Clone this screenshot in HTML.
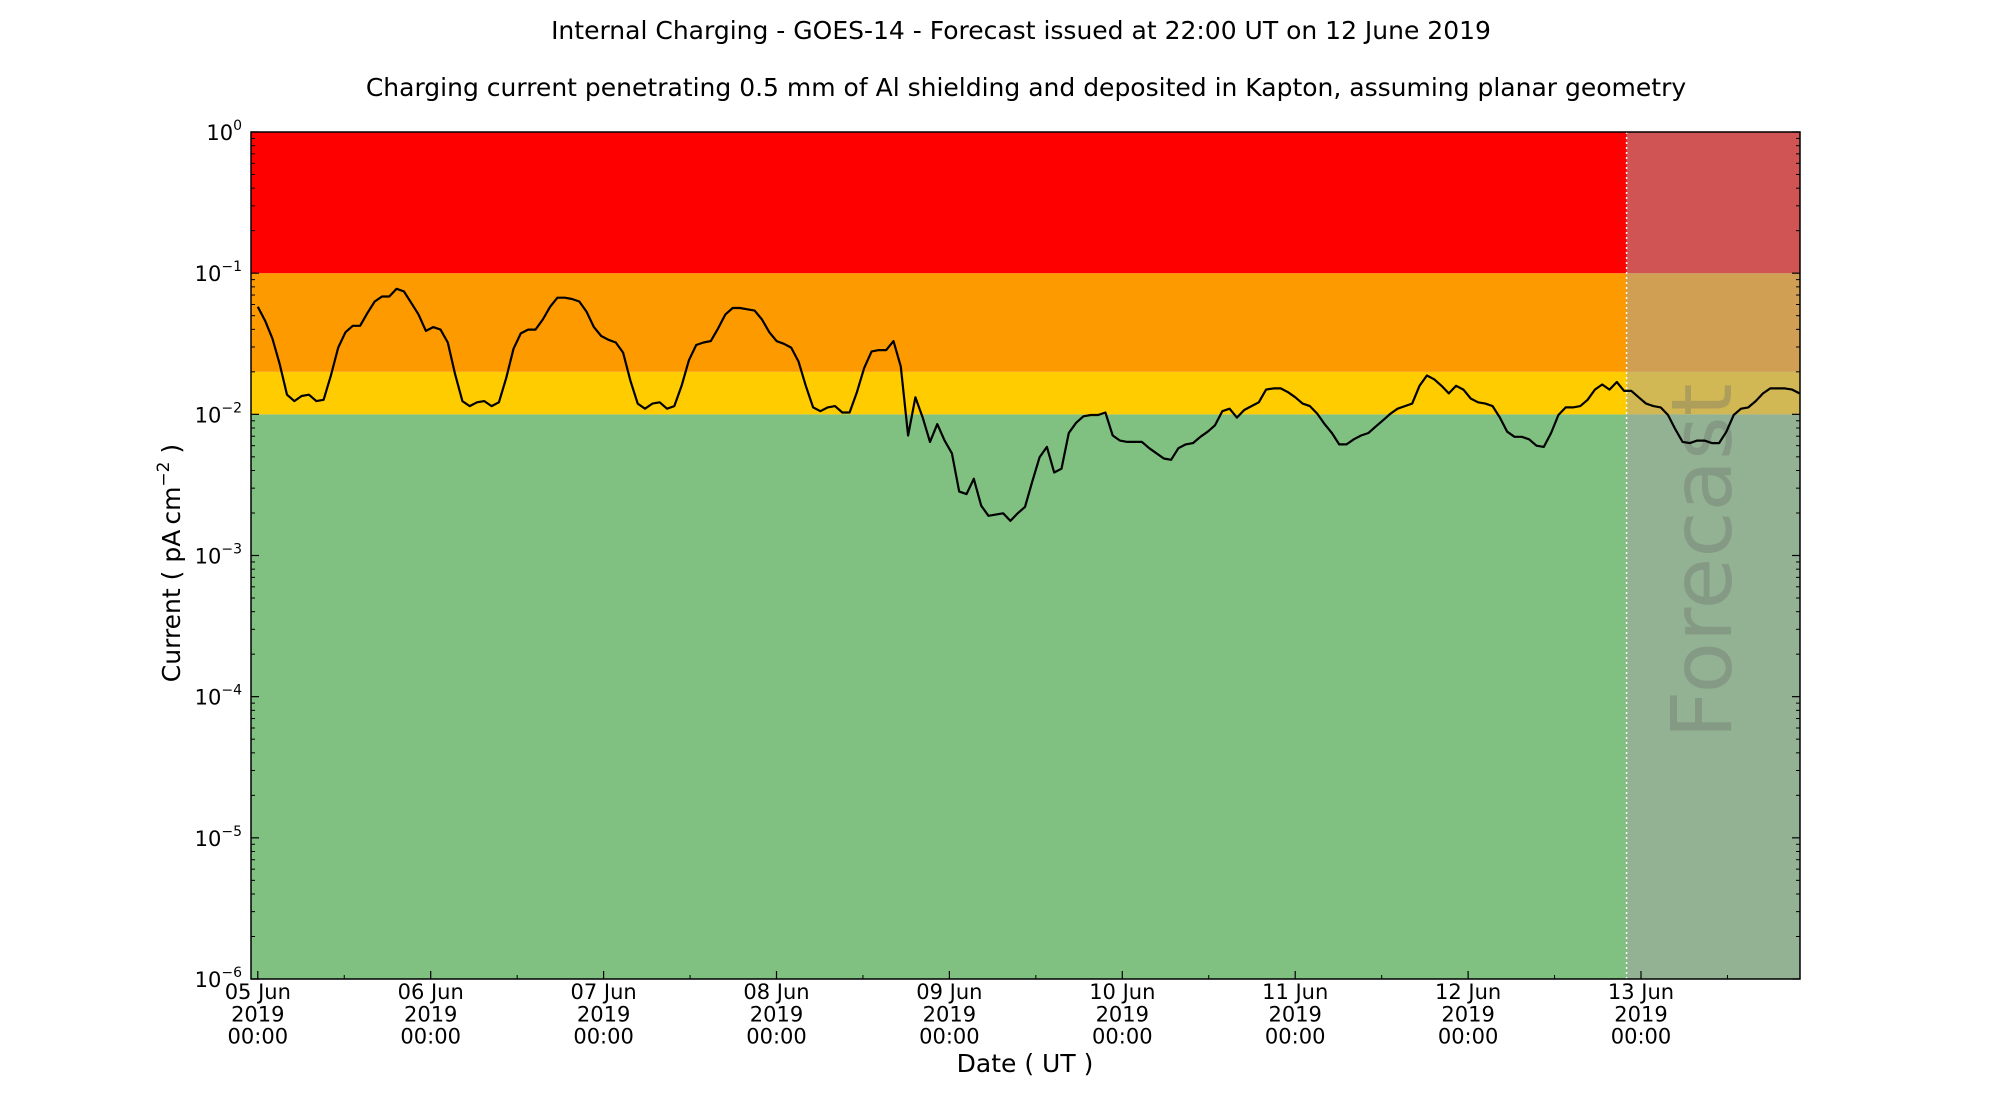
<!DOCTYPE html>
<html><head><meta charset="utf-8"><style>
html,body{margin:0;padding:0;background:#fff;}
svg{display:block;font-family:"DejaVu Sans","Liberation Sans",sans-serif;}
</style></head><body>
<svg id="chart" width="2000" height="1100" viewBox="0 0 2000 1100"></svg>
<script>
// ---- data ----
const dayLabels = ["05 Jun","06 Jun","07 Jun","08 Jun","09 Jun","10 Jun","11 Jun","12 Jun","13 Jun"];
const yTickExponents = [0,-1,-2,-3,-4,-5,-6];
const riskThresholds = [1e-2, 2e-2, 1e-1, 1];
const riskColors = ["#80c080","#ffcc00","#fc9a00","#ff0000"];
const forecastStartHour = 190; // 12 Jun 22:00 relative to 05 Jun 00:00
const seriesStartHour = 0;
const seriesEndHour = 214;
const logCurrent = [-1.238,-1.337,-1.463,-1.644,-1.861,-1.906,-1.870,-1.861,-1.906,-1.897,-1.725,-1.527,-1.418,-1.373,-1.373,-1.283,-1.201,-1.165,-1.165,-1.111,-1.129,-1.210,-1.292,-1.409,-1.382,-1.400,-1.491,-1.716,-1.906,-1.942,-1.915,-1.906,-1.942,-1.915,-1.743,-1.536,-1.427,-1.400,-1.400,-1.328,-1.238,-1.174,-1.174,-1.183,-1.201,-1.274,-1.382,-1.445,-1.472,-1.491,-1.563,-1.762,-1.924,-1.960,-1.924,-1.915,-1.960,-1.942,-1.798,-1.617,-1.509,-1.491,-1.481,-1.391,-1.292,-1.247,-1.247,-1.256,-1.265,-1.328,-1.418,-1.481,-1.500,-1.527,-1.626,-1.798,-1.951,-1.978,-1.951,-1.942,-1.987,-1.987,-1.843,-1.671,-1.554,-1.545,-1.545,-1.481,-1.662,-2.150,-1.879,-2.023,-2.195,-2.069,-2.186,-2.276,-2.547,-2.565,-2.457,-2.647,-2.719,-2.710,-2.701,-2.755,-2.701,-2.656,-2.475,-2.304,-2.231,-2.412,-2.385,-2.132,-2.060,-2.014,-2.005,-2.005,-1.987,-2.150,-2.186,-2.195,-2.195,-2.195,-2.240,-2.276,-2.313,-2.322,-2.240,-2.213,-2.204,-2.159,-2.123,-2.078,-1.978,-1.960,-2.023,-1.969,-1.942,-1.915,-1.825,-1.816,-1.816,-1.843,-1.879,-1.924,-1.942,-1.996,-2.069,-2.132,-2.213,-2.213,-2.177,-2.150,-2.132,-2.087,-2.042,-1.996,-1.960,-1.942,-1.924,-1.798,-1.725,-1.752,-1.798,-1.852,-1.798,-1.825,-1.888,-1.915,-1.924,-1.942,-2.023,-2.123,-2.159,-2.159,-2.177,-2.222,-2.231,-2.132,-2.005,-1.951,-1.951,-1.942,-1.897,-1.825,-1.789,-1.825,-1.771,-1.834,-1.834,-1.879,-1.924,-1.942,-1.951,-2.005,-2.105,-2.195,-2.204,-2.186,-2.186,-2.204,-2.204,-2.123,-2.005,-1.960,-1.951,-1.906,-1.852,-1.816,-1.816,-1.816,-1.825,-1.852];

// ---- layout ----
const L=251, R=1800, T=132, B=979;
const x0 = 257.8, pxPerHour = 172.9/24;
const X = h => x0 + h*pxPerHour;
const Y = v => T + (0 - Math.log10(v)) * (B-T)/6;
const NS="http://www.w3.org/2000/svg";
const svg=document.getElementById('chart');
function el(tag, attrs, parent){const e=document.createElementNS(NS,tag);for(const k in attrs)e.setAttribute(k,attrs[k]);(parent||svg).appendChild(e);return e;}

// titles
let t=el('text',{x:1021,y:39,'text-anchor':'middle','font-size':25,fill:'#000'});


t.textContent='Internal Charging - GOES-14 - Forecast issued at 22:00 UT on 12 June 2019';
t=el('text',{x:1026,y:96,'text-anchor':'middle','font-size':25,fill:'#000'});


t.textContent='Charging current penetrating 0.5 mm of Al shielding and deposited in Kapton, assuming planar geometry';

// bands
const bands=el('g',{});


let lo=1e-6;
riskThresholds.forEach((hi,i)=>{
  const r=el('rect',{x:L,y:Y(hi),width:R-L,height:Y(lo)-Y(hi),fill:riskColors[i]},bands);
  
  
  lo=hi;
});
const fx=X(forecastStartHour);
const ov=el('rect',{x:fx,y:T,width:R-fx,height:B-T,fill:'rgba(165,165,165,0.51)'});


const ft=el('text',{x:0,y:0,'font-size':84,fill:'rgba(110,110,110,0.35)','text-anchor':'middle',transform:`translate(1731,561) rotate(-90)`});


ft.textContent='Forecast';
const fl=el('line',{x1:fx,x2:fx,y1:T,y2:B,stroke:'#fff','stroke-width':1.5,'stroke-dasharray':'2,3'});



// series
const n=logCurrent.length;
const pts=logCurrent.map((lv,i)=>{const h=seriesStartHour+(seriesEndHour-seriesStartHour)*i/(n-1);return X(h).toFixed(1)+','+Y(Math.pow(10,lv)).toFixed(1);}).join(' ');
const line=el('polyline',{points:pts,fill:'none',stroke:'#000','stroke-width':2.2,'stroke-linejoin':'round'});



// axes frame
const fr=el('rect',{x:L,y:T,width:R-L,height:B-T,fill:'none',stroke:'#000','stroke-width':1.5});



// y ticks
const yax=el('g',{});


yTickExponents.forEach(e=>{
  const y=Y(Math.pow(10,e));
  el('line',{x1:L,x2:L+8,y1:y,y2:y,stroke:'#000','stroke-width':1.2},yax);
  el('line',{x1:R,x2:R-8,y1:y,y2:y,stroke:'#000','stroke-width':1.2},yax);
  const tx=el('text',{x:L-9,y:y+8,'text-anchor':'end','font-size':21,fill:'#000'},yax);
  
  
  tx.textContent='10';
  const sp=el('tspan',{dy:-10,'font-size':14},tx); sp.textContent=(e<0?'\u2212'+(-e):''+e);
  if(e>-6){for(let m=2;m<=9;m++){const yy=Y(m*Math.pow(10,e-1));
    el('line',{x1:L,x2:L+4,y1:yy,y2:yy,stroke:'#000','stroke-width':1},yax);
    el('line',{x1:R,x2:R-4,y1:yy,y2:yy,stroke:'#000','stroke-width':1},yax);}}
});
const yl=el('text',{x:0,y:0,'font-size':25,'text-anchor':'middle',fill:'#000',transform:'translate(180,563) rotate(-90)'});


yl.textContent='Current ( pA\u2009cm';
const ys=el('tspan',{dy:-11,'font-size':17},yl); ys.textContent='\u22122';
const ye=el('tspan',{dy:11},yl); ye.textContent=' )';

// x ticks
const xax=el('g',{});


dayLabels.forEach((d,i)=>{
  const x=X(i*24);
  el('line',{x1:x,x2:x,y1:B,y2:B-8,stroke:'#000','stroke-width':1.2},xax);
  const xm=X(i*24+12);
  if(xm<R) el('line',{x1:xm,x2:xm,y1:B,y2:B-4,stroke:'#000','stroke-width':1},xax);
  [d,'2019','00:00'].forEach((s,j)=>{
    const tx=el('text',{x:x,y:999+j*22.3,'text-anchor':'middle','font-size':21,fill:'#000'},xax);
    
    
    tx.textContent=s;
  });
});
const xl=el('text',{x:1025,y:1072,'text-anchor':'middle','font-size':25,fill:'#000'});


xl.textContent='Date ( UT )';
</script>
</body></html>
